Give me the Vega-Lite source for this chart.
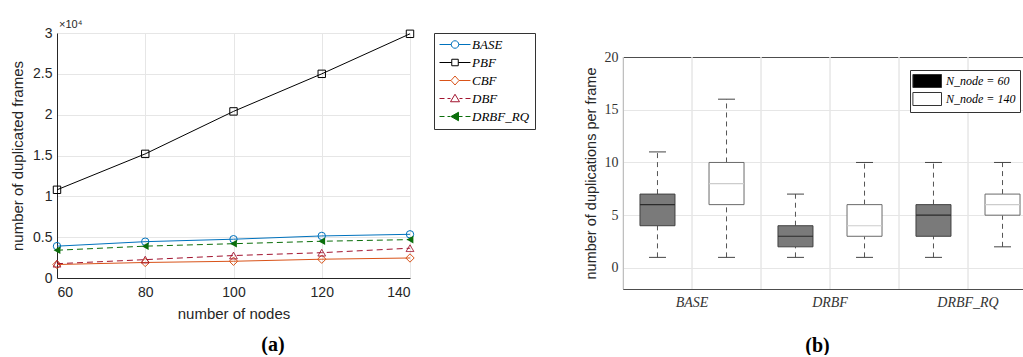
{
  "$schema": "https://vega.github.io/schema/vega-lite/v6.json",
  "padding": {"left": 10, "right": 0, "top": 19, "bottom": 0},
  "spacing": 47,
  "resolve": {"scale": {"color": "independent", "fill": "independent", "stroke": "independent", "shape": "independent", "strokeDash": "independent"}},
  "config": {
    "view": {"stroke": null},
    "font": "Liberation Sans",
    "axis": {"labelColor": "#262626", "titleColor": "#262626", "gridColor": "#e6e6e6", "domainColor": "#262626", "titleFontWeight": "normal"}
  },
  "hconcat": [
    {
      "width": 353,
      "height": 245,
      "title": {"text": "(a)", "orient": "bottom", "frame": "bounds", "font": "Liberation Serif", "fontSize": 20, "fontWeight": "bold", "color": "#000000", "offset": 14},
      "data": {"values": [
        {"nodes": 60, "series": "BASE", "value": 3900},
        {"nodes": 80, "series": "BASE", "value": 4450},
        {"nodes": 100, "series": "BASE", "value": 4750},
        {"nodes": 120, "series": "BASE", "value": 5150},
        {"nodes": 140, "series": "BASE", "value": 5350},
        {"nodes": 60, "series": "PBF", "value": 10800},
        {"nodes": 80, "series": "PBF", "value": 15200},
        {"nodes": 100, "series": "PBF", "value": 20400},
        {"nodes": 120, "series": "PBF", "value": 25000},
        {"nodes": 140, "series": "PBF", "value": 29900},
        {"nodes": 60, "series": "CBF", "value": 1650},
        {"nodes": 80, "series": "CBF", "value": 1900},
        {"nodes": 100, "series": "CBF", "value": 2050},
        {"nodes": 120, "series": "CBF", "value": 2300},
        {"nodes": 140, "series": "CBF", "value": 2450},
        {"nodes": 60, "series": "DBF", "value": 1750},
        {"nodes": 80, "series": "DBF", "value": 2250},
        {"nodes": 100, "series": "DBF", "value": 2750},
        {"nodes": 120, "series": "DBF", "value": 3100},
        {"nodes": 140, "series": "DBF", "value": 3650},
        {"nodes": 60, "series": "DRBF_RQ", "value": 3400},
        {"nodes": 80, "series": "DRBF_RQ", "value": 3900},
        {"nodes": 100, "series": "DRBF_RQ", "value": 4200},
        {"nodes": 120, "series": "DRBF_RQ", "value": 4500},
        {"nodes": 140, "series": "DRBF_RQ", "value": 4700}
      ]},
      "layer": [
        {
          "transform": [{"filter": "datum.series === 'BASE'"}],
          "mark": {"type": "line", "color": "#0072BD", "strokeWidth": 1,
                   "point": {"shape": "circle", "filled": false, "size": 55, "strokeWidth": 1, "opacity": 1, "color": "#0072BD"}},
          "encoding": {
            "x": {"field": "nodes", "type": "quantitative", "scale": {"domain": [60, 140], "nice": false, "zero": false},
                  "axis": {"values": [60, 80, 100, 120, 140], "grid": true, "ticks": false, "title": "number of nodes", "labelFontSize": 14, "titleFontSize": 15, "labelPadding": 7, "titlePadding": 7}},
            "y": {"field": "value", "type": "quantitative", "scale": {"domain": [0, 30000], "nice": false},
                  "axis": {"values": [0, 5000, 10000, 15000, 20000, 25000, 30000], "labelExpr": "datum.value / 10000 + ''", "grid": true, "ticks": false, "title": "number of duplicated frames", "labelFontSize": 14, "titleFontSize": 15, "labelPadding": 5, "titlePadding": 7}}
          }
        },
        {
          "transform": [{"filter": "datum.series === 'PBF'"}],
          "mark": {"type": "line", "color": "#000000", "strokeWidth": 1,
                   "point": {"shape": "square", "filled": false, "size": 55, "strokeWidth": 1, "opacity": 1, "color": "#000000"}},
          "encoding": {"x": {"field": "nodes", "type": "quantitative"}, "y": {"field": "value", "type": "quantitative"}}
        },
        {
          "transform": [{"filter": "datum.series === 'CBF'"}],
          "mark": {"type": "line", "color": "#D95319", "strokeWidth": 1,
                   "point": {"shape": "diamond", "filled": false, "size": 70, "strokeWidth": 1, "opacity": 1, "color": "#D95319"}},
          "encoding": {"x": {"field": "nodes", "type": "quantitative"}, "y": {"field": "value", "type": "quantitative"}}
        },
        {
          "transform": [{"filter": "datum.series === 'DBF'"}],
          "mark": {"type": "line", "color": "#A2142F", "strokeWidth": 1, "strokeDash": [6, 4],
                   "point": {"shape": "triangle-up", "filled": false, "size": 60, "strokeWidth": 1, "opacity": 1, "color": "#A2142F", "strokeDash": [1, 0]}},
          "encoding": {"x": {"field": "nodes", "type": "quantitative"}, "y": {"field": "value", "type": "quantitative"}}
        },
        {
          "transform": [{"filter": "datum.series === 'DRBF_RQ'"}],
          "mark": {"type": "line", "color": "#0B6E0B", "strokeWidth": 1, "strokeDash": [6, 4],
                   "point": {"shape": "triangle-left", "filled": true, "size": 60, "opacity": 1, "color": "#0B6E0B"}},
          "encoding": {"x": {"field": "nodes", "type": "quantitative"}, "y": {"field": "value", "type": "quantitative"}}
        },
        {
          "transform": [{"filter": "false"}],
          "mark": {"type": "point", "strokeWidth": 1, "opacity": 1},
          "encoding": {
            "x": {"field": "nodes", "type": "quantitative"},
            "y": {"field": "value", "type": "quantitative"},
            "shape": {"field": "series", "type": "nominal",
              "scale": {"domain": ["BASE", "PBF", "CBF", "DBF", "DRBF_RQ"], "range": [
                "M-1.2,0H1.15M2.65,0H5M2.65,0A0.75,0.75 0 1 1 1.15,0A0.75,0.75 0 1 1 2.65,0Z",
                "M-1.2,0H1.25M2.55,0H5M1.25,-0.65H2.55V0.65H1.25Z",
                "M-1.2,0H1.1M2.7,0H5M1.9,-0.9L2.7,0L1.9,0.9L1.1,0Z",
                "M-1.2,0H-0.2M0.4,0H1.0M2.8,0H3.4M4,0H5M1.9,-0.85L2.8,0.65H1.0Z",
                "M-1.2,0H-0.2M0.4,0H1.0M2.7,0H3.4M4,0H5M1.1,0L2.6,-0.85V0.85Z"]},
              "legend": {"title": null, "orient": "right", "offset": 24, "padding": 5, "rowPadding": 4, "symbolSize": 100, "symbolStrokeWidth": 1, "labelOffset": 20, "labelFont": "Liberation Serif", "labelFontStyle": "italic", "labelFontSize": 13, "labelColor": "#000000", "strokeColor": "#333333", "fillColor": "#ffffff"}},
            "stroke": {"field": "series", "type": "nominal",
              "scale": {"domain": ["BASE", "PBF", "CBF", "DBF", "DRBF_RQ"], "range": ["#0072BD", "#000000", "#D95319", "#A2142F", "#0B6E0B"]},
              "legend": {"title": null, "orient": "right", "offset": 24, "padding": 5, "rowPadding": 4, "symbolSize": 100, "symbolStrokeWidth": 1, "labelOffset": 20, "labelFont": "Liberation Serif", "labelFontStyle": "italic", "labelFontSize": 13, "labelColor": "#000000", "strokeColor": "#333333", "fillColor": "#ffffff"}},
            "fill": {"field": "series", "type": "nominal",
              "scale": {"domain": ["BASE", "PBF", "CBF", "DBF", "DRBF_RQ"], "range": ["transparent", "transparent", "transparent", "transparent", "#0B6E0B"]},
              "legend": {"title": null, "orient": "right", "offset": 24, "padding": 5, "rowPadding": 4, "symbolSize": 100, "symbolStrokeWidth": 1, "labelOffset": 20, "labelFont": "Liberation Serif", "labelFontStyle": "italic", "labelFontSize": 13, "labelColor": "#000000", "strokeColor": "#333333", "fillColor": "#ffffff"}}
          }
        },
        {
          "data": {"values": [{"t": "×10⁴", "nodes": 60, "value": 30000}]},
          "mark": {"type": "text", "align": "left", "baseline": "alphabetic", "dx": 2, "dy": -5, "fontSize": 11, "fill": "#262626"},
          "encoding": {
            "x": {"field": "nodes", "type": "quantitative"},
            "y": {"field": "value", "type": "quantitative"},
            "text": {"field": "t"}
          }
        }
      ]
    },
    {
      "width": 400,
      "height": 256,
      "data": {"values": [
        {"cat": "BASE", "n": "60", "low": 1, "q1": 4, "median": 6, "q3": 7, "high": 11},
        {"cat": "BASE", "n": "140", "low": 1, "q1": 6, "median": 8, "q3": 10, "high": 16},
        {"cat": "DRBF", "n": "60", "low": 1, "q1": 2, "median": 3, "q3": 4, "high": 7},
        {"cat": "DRBF", "n": "140", "low": 1, "q1": 3, "median": 4, "q3": 6, "high": 10},
        {"cat": "DRBF_RQ", "n": "60", "low": 1, "q1": 3, "median": 5, "q3": 6, "high": 10},
        {"cat": "DRBF_RQ", "n": "140", "low": 2, "q1": 5, "median": 6, "q3": 7, "high": 10}
      ]},
      "layer": [
        {
          "mark": {"type": "rule", "color": "#e6e6e6", "strokeWidth": 1},
          "encoding": {
            "x": {"field": "cat", "type": "nominal", "scale": {"domain": ["BASE", "DRBF", "DRBF_RQ"], "range": [0, 414], "paddingInner": 0, "paddingOuter": 0},
                  "axis": {"orient": "bottom", "bandPosition": 0.5, "grid": false, "ticks": false, "domain": false, "labelAngle": 0, "labelFont": "Liberation Serif", "labelFontStyle": "italic", "labelFontSize": 14, "labelColor": "#333333", "labelPadding": 6, "title": "(b)", "titleFont": "Liberation Serif", "titleFontSize": 20, "titleFontWeight": "bold", "titleColor": "#000000", "titlePadding": 26, "titleX": 194}},
            "y": {"datum": -2, "type": "quantitative", "scale": {"domain": [-2, 20], "range": [256, 24], "nice": false, "zero": false},
                  "axis": {"values": [-2, 0, 5, 10, 15, 20], "labelExpr": "datum.value < 0 ? '' : datum.label", "grid": true,
                           "gridColor": {"condition": {"test": "datum.value > 19 || datum.value < -1", "value": "#4d4d4d"}, "value": "#e6e6e6"},
                           "ticks": false, "domain": true, "domainColor": "#4d4d4d", "labelFont": "Liberation Serif", "labelFontSize": 14, "labelColor": "#333333", "labelPadding": 5, "title": "number of duplications per frame", "titleFontSize": 14.5, "titlePadding": 6}},
            "y2": {"datum": 20}
          }
        },
        {
          "mark": {"type": "rule", "color": "#e6e6e6", "strokeWidth": 1},
          "encoding": {
            "x": {"field": "cat", "type": "nominal", "bandPosition": 0},
            "y": {"datum": -2, "type": "quantitative"},
            "y2": {"datum": 20}
          }
        },
        {
          "mark": {"type": "rule", "strokeDash": [5, 4], "color": "#555555", "strokeWidth": 1},
          "encoding": {
            "x": {"field": "cat", "type": "nominal"},
            "xOffset": {"field": "n", "type": "nominal", "scale": {"domain": ["60", "140"], "paddingInner": 0.493, "paddingOuter": 0.246}},
            "y": {"field": "low", "type": "quantitative"},
            "y2": {"field": "q1"}
          }
        },
        {
          "mark": {"type": "rule", "strokeDash": [5, 4], "color": "#555555", "strokeWidth": 1},
          "encoding": {
            "x": {"field": "cat", "type": "nominal"},
            "xOffset": {"field": "n", "type": "nominal"},
            "y": {"field": "q3", "type": "quantitative"},
            "y2": {"field": "high"}
          }
        },
        {
          "mark": {"type": "tick", "size": 17, "thickness": 1, "color": "#444444", "opacity": 1},
          "encoding": {
            "x": {"field": "cat", "type": "nominal"},
            "xOffset": {"field": "n", "type": "nominal"},
            "y": {"field": "low", "type": "quantitative"}
          }
        },
        {
          "mark": {"type": "tick", "size": 17, "thickness": 1, "color": "#444444", "opacity": 1},
          "encoding": {
            "x": {"field": "cat", "type": "nominal"},
            "xOffset": {"field": "n", "type": "nominal"},
            "y": {"field": "high", "type": "quantitative"}
          }
        },
        {
          "transform": [{"filter": "datum.n === '60'"}],
          "mark": {"type": "bar", "fill": "#7a7a7a", "stroke": "#404040", "strokeWidth": 1},
          "encoding": {
            "x": {"field": "cat", "type": "nominal"},
            "xOffset": {"field": "n", "type": "nominal"},
            "y": {"field": "q1", "type": "quantitative"},
            "y2": {"field": "q3"}
          }
        },
        {
          "transform": [{"filter": "datum.n === '140'"}],
          "mark": {"type": "bar", "fill": "#ffffff", "stroke": "#6a6a6a", "strokeWidth": 1},
          "encoding": {
            "x": {"field": "cat", "type": "nominal"},
            "xOffset": {"field": "n", "type": "nominal"},
            "y": {"field": "q1", "type": "quantitative"},
            "y2": {"field": "q3"}
          }
        },
        {
          "transform": [{"filter": "datum.n === '60'"}],
          "mark": {"type": "tick", "size": 35, "thickness": 1.2, "color": "#2b2b2b", "opacity": 1},
          "encoding": {
            "x": {"field": "cat", "type": "nominal"},
            "xOffset": {"field": "n", "type": "nominal"},
            "y": {"field": "median", "type": "quantitative"}
          }
        },
        {
          "transform": [{"filter": "datum.n === '140'"}],
          "mark": {"type": "tick", "size": 35, "thickness": 1.2, "color": "#cccccc", "opacity": 1},
          "encoding": {
            "x": {"field": "cat", "type": "nominal"},
            "xOffset": {"field": "n", "type": "nominal"},
            "y": {"field": "median", "type": "quantitative"}
          }
        },
        {
          "transform": [{"filter": "false"}],
          "mark": {"type": "point", "filled": true, "opacity": 1, "stroke": "#333333", "strokeWidth": 1},
          "encoding": {
            "x": {"field": "cat", "type": "nominal"},
            "y": {"field": "median", "type": "quantitative"},
            "fill": {"field": "n", "type": "nominal", "scale": {"domain": ["60", "140"], "range": ["#000000", "#ffffff"]},
                     "legend": {"title": null, "orient": "none", "legendX": 287, "legendY": 37, "padding": 4, "rowPadding": 0, "symbolType": "M-1.246,-1H3.154V1H-1.246Z", "symbolSize": 169, "symbolStrokeColor": "#333333", "symbolStrokeWidth": 1, "labelOffset": 18, "labelFont": "Liberation Serif", "labelFontStyle": "italic", "labelFontSize": 12, "labelColor": "#000000", "labelExpr": "'N_node = ' + datum.label", "strokeColor": "#333333", "fillColor": "#ffffff"}}
          }
        }
      ]
    }
  ]
}
